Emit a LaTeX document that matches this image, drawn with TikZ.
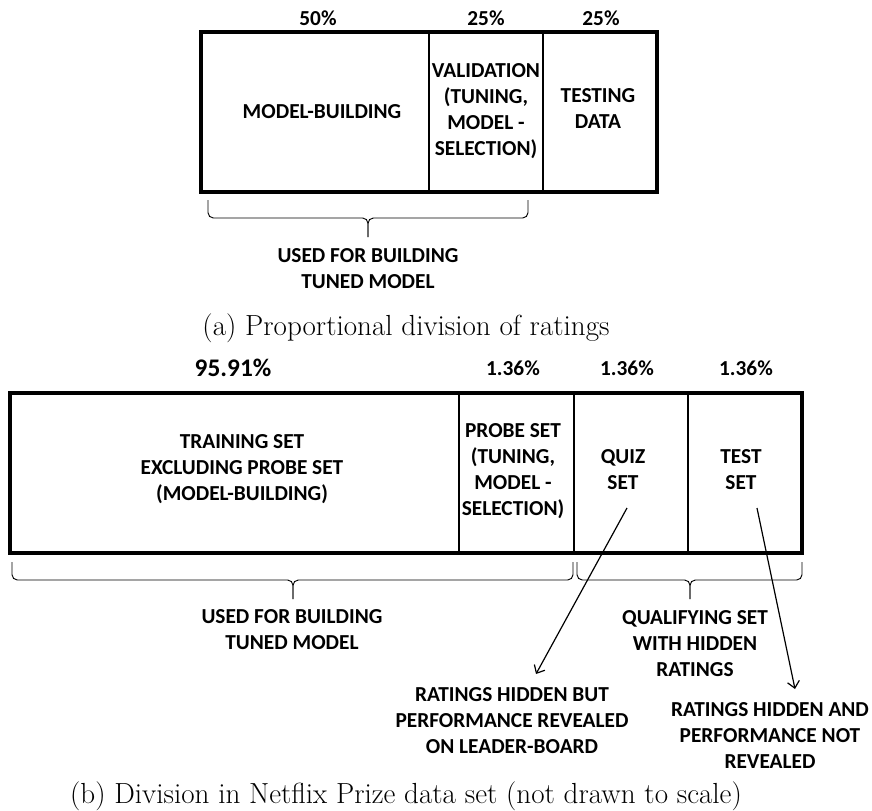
\documentclass[tikz,border=0pt]{standalone}
\usepackage{fontspec}
\newfontfamily\lblfont{Carlito}
\usetikzlibrary{arrows.meta}
\tikzset{
  lbl/.style={font=\lblfont\bfseries\fontsize{16}{19.5}\selectfont,align=center,inner sep=0pt},
  pct/.style={font=\lblfont\bfseries\fontsize{16}{19.5}\selectfont,inner sep=0pt},
  bigpct/.style={font=\lblfont\bfseries\fontsize{19}{22}\selectfont,inner sep=0pt},
  capt/.style={font=\fontsize{21.8}{25}\selectfont,inner sep=0pt},
  frame/.style={line width=2.3pt},
  divider/.style={line width=0.8pt},
  thickdiv/.style={line width=2pt},
  brc/.style={line width=0.7pt,rounded corners=4pt},
}

\begin{document}
\begin{tikzpicture}[x=0.75pt,y=-0.75pt,>={Straight Barb[length=5pt,width=9pt]}]
  \useasboundingbox (0,0) rectangle (872,811);
  % (a) proportional split
  \draw[divider] (429,32) -- (429,192);
  \draw[divider] (543,32) -- (543,192);
  \draw[frame] (201,32) rectangle (657,192);
  \node[pct] (pa1) at (318,18) {50\%};
  \node[pct] (pa2) at (486,18) {25\%};
  \node[pct] (pa3) at (601,18) {25\%};
  \node[lbl] (mb) at (322,112) {MODEL-BUILDING};
  \node[lbl] (val) at (486,111) {VALIDATION\\(TUNING,\\MODEL -\\SELECTION)};
  \node[lbl] (tst) at (598,109) {TESTING\\DATA};
  % brace under model-building + validation
  \draw[brc] (208,200) -- (208,218) -- (368,218) -- (368,237);
  \draw[brc] (528,200) -- (528,218) -- (368,218) -- (368,237);
  \node[lbl] (usea) at (368,269) {USED FOR BUILDING\\TUNED MODEL};
  \node[capt] (capa) at (406,328) {(a) Proportional division of ratings};
  % (b) netflix split
  \draw[thickdiv] (459,393) -- (459,553);
  \draw[thickdiv] (574,393) -- (574,553);
  \draw[thickdiv] (688,393) -- (688,553);
  \draw[frame] (10,393) rectangle (802,553);
  \node[bigpct] (pb1) at (233,368) {95.91\%};
  \node[pct] (pb2) at (513,368) {1.36\%};
  \node[pct] (pb3) at (627,368) {1.36\%};
  \node[pct] (pb4) at (746,368) {1.36\%};
  \node[lbl] (train) at (242,469) {TRAINING SET\\EXCLUDING PROBE SET\\(MODEL-BUILDING)};
  \node[lbl] (probe) at (513,471) {PROBE SET\\(TUNING,\\MODEL -\\SELECTION)};
  \node[lbl] (quiz) at (623,470) {QUIZ\\SET};
  \node[lbl] (test) at (741,470) {TEST\\SET};
  % braces below
  \draw[brc] (12,562) -- (12,580) -- (293,580) -- (293,599);
  \draw[brc] (573,562) -- (573,580) -- (293,580) -- (293,599);
  \draw[brc] (577,562) -- (577,580) -- (690,580) -- (690,599);
  \draw[brc] (802,562) -- (802,580) -- (690,580) -- (690,599);
  \node[lbl] (useb) at (292,630) {USED FOR BUILDING\\TUNED MODEL};
  \node[lbl] (qual) at (695,644) {QUALIFYING SET\\WITH HIDDEN\\RATINGS};
  \node[lbl] (hidq) at (512,721) {RATINGS HIDDEN BUT\\PERFORMANCE REVEALED\\ON LEADER-BOARD};
  \node[lbl] (hidt) at (770,735) {RATINGS HIDDEN AND\\PERFORMANCE NOT\\REVEALED};
  \coordinate (qfrom) at (627,508);
  \coordinate (qto) at (536,674);
  \coordinate (tfrom) at (757,508);
  \coordinate (tto) at (795,689);
  \draw[->,line width=0.9pt] (qfrom) -- (qto);
  \draw[->,line width=0.9pt] (tfrom) -- (tto);
  \node[capt] (capb) at (406,796) {(b) Division in Netflix Prize data set (not drawn to scale)};
\end{tikzpicture}
\end{document}
